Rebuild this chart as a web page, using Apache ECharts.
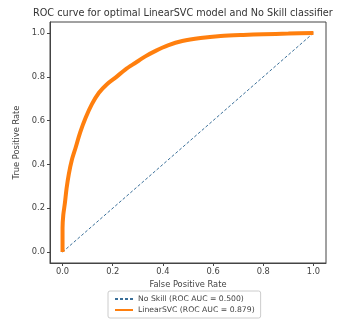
<!DOCTYPE html>
<html>
<head>
<meta charset="utf-8">
<script src="https://cdn.jsdelivr.net/npm/echarts@6/dist/echarts.min.js"></script>
<style>
	html, body { margin: 0; padding: 0; background: #fff; }
	#chart { width: 344px; height: 327px; }
</style>
</head>
<body>
<div id="chart"></div>
<script>
// values
const svcFpr = [0, 0, 0.003, 0.009, 0.016, 0.025, 0.037, 0.052, 0.07, 0.092, 0.117, 0.145, 0.176, 0.211, 0.25, 0.291, 0.33, 0.371, 0.42, 0.477, 0.55, 0.63, 0.72, 0.80, 0.9, 1.0]
const svcTpr = [0, 0.11, 0.17, 0.22, 0.29, 0.356, 0.42, 0.476, 0.545, 0.613, 0.675, 0.727, 0.765, 0.796, 0.833, 0.864, 0.893, 0.918, 0.943, 0.963, 0.977, 0.986, 0.991, 0.994, 0.997, 1.0]
const skillFpr = [0, 1]
const skillTpr = [0, 1]
const ticks = [0, 0.2, 0.4, 0.6, 0.8, 1.0]
const names = ['No Skill (ROC AUC = 0.500)', 'LinearSVC (ROC AUC = 0.879)']

const font = 'DejaVu Sans'
const ink = '#444'

let chart = echarts.init(document.getElementById('chart'))

let axisBase = {
	type: 'value',
	min: -0.05,
	max: 1.05,
	splitLine: { show: false },
	axisLine: { show: true, onZero: false, lineStyle: { color: '#444' } },
	axisTick: { show: true, length: 3, customValues: ticks, lineStyle: { color: '#444' } },
	axisLabel: {
		customValues: ticks,
		formatter: v => v.toFixed(1),
		color: ink, fontFamily: font, fontSize: 8.3, margin: 5,
	},
	nameLocation: 'middle',
	nameTextStyle: { color: ink, fontFamily: font, fontSize: 8.3 },
}

chart.setOption({
	animation: false,
	backgroundColor: '#fff',
	title: {
		text: 'ROC curve for optimal LinearSVC model and No Skill classifier',
		left: 33, top: 8, padding: 0,
		textStyle: { color: '#333', fontFamily: font, fontSize: 9.7, fontWeight: 'normal' },
	},
	grid: {
		left: 50, right: 18, top: 22, bottom: 64,
		show: true, borderColor: '#444', borderWidth: 1,
	},
	xAxis: Object.assign({}, axisBase, { name: 'False Positive Rate', nameGap: 17 }),
	yAxis: Object.assign({}, axisBase, { name: 'True Positive Rate', nameGap: 23 }),
	legend: {
		orient: 'vertical',
		left: 108, top: 291,
		padding: [4, 6],
		itemGap: 3,
		itemWidth: 18, itemHeight: 6,
		itemStyle: { opacity: 0 },
		borderColor: '#ccc', borderWidth: 1, borderRadius: 2,
		textStyle: { color: ink, fontFamily: font, fontSize: 7.7 },
		data: names,
	},
	series: [{
		name: names[0],
		type: 'line',
		data: skillFpr.map((x, i) => [x, skillTpr[i]]),
		symbol: 'none',
		lineStyle: { color: '#3a6f99', width: 1, type: [3, 2] },
		itemStyle: { color: '#3a6f99' },
	}, {
		name: names[1],
		type: 'line',
		data: svcFpr.map((x, i) => [x, svcTpr[i]]),
		smooth: 0.3,
		symbol: 'none',
		lineStyle: { color: '#ff7f0e', width: 4 },
		itemStyle: { color: '#ff7f0e' },
	}],
})
</script>
</body>
</html>
